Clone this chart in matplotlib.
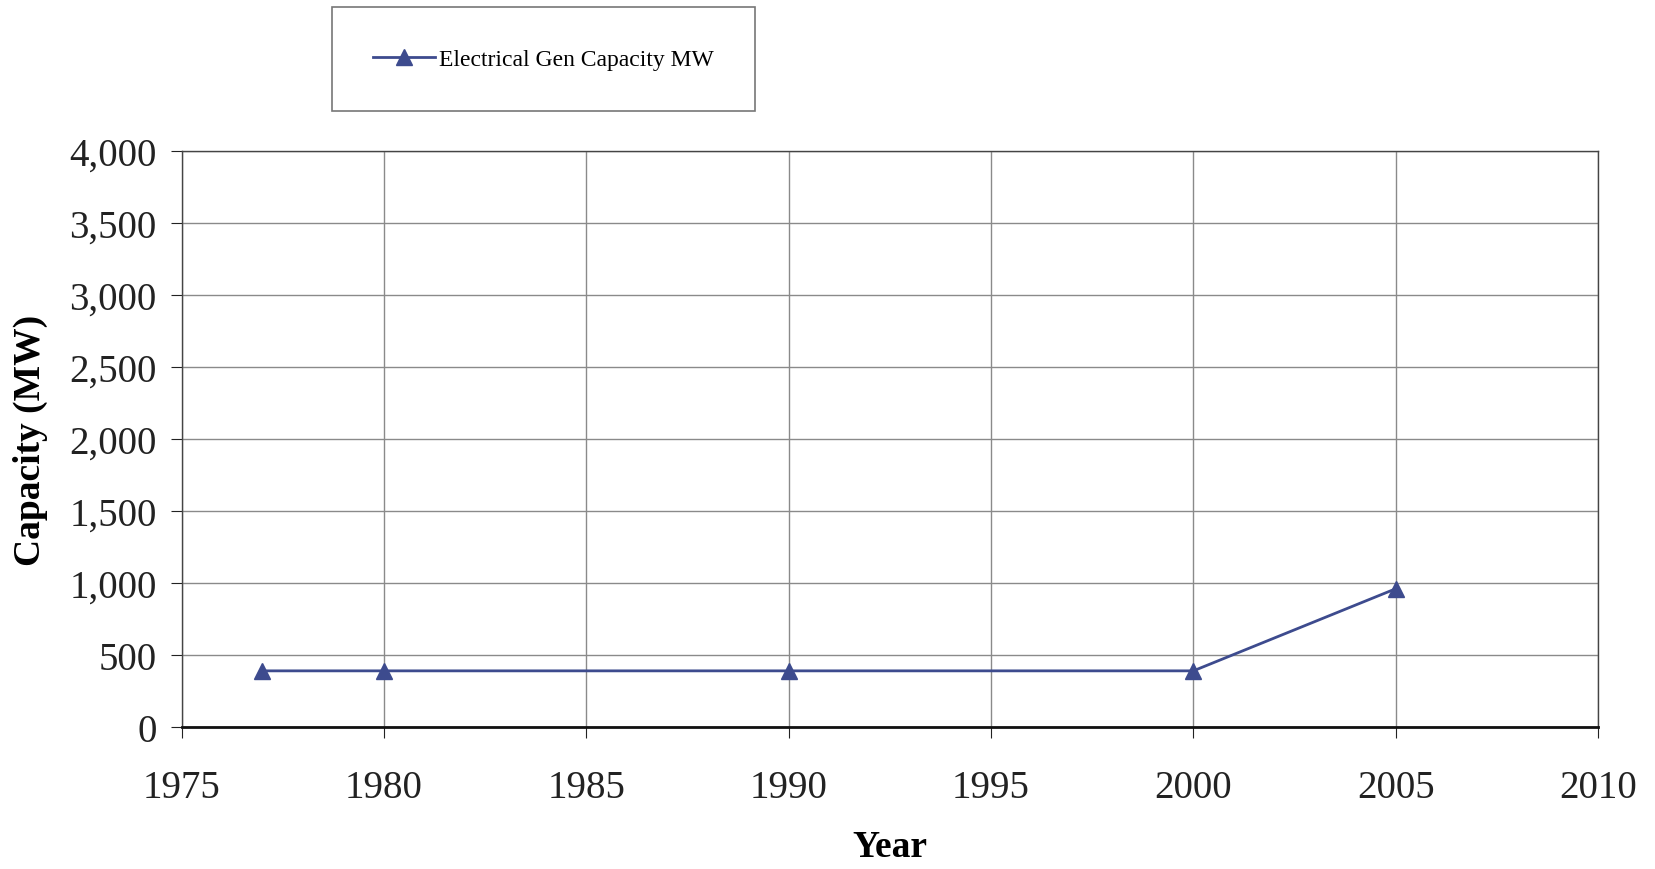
import matplotlib
matplotlib.use("Agg")
import matplotlib.pyplot as plt
from matplotlib.ticker import FuncFormatter

plt.rcParams['font.family'] = ['Liberation Serif', 'DejaVu Serif']

# generating capacity by year
years = [1977, 1980, 1990, 2000, 2005]
capacity_mw = [390, 390, 390, 390, 960]
series_name = "Electrical Gen Capacity MW"

x_ticks = list(range(1975, 2011, 5))
y_ticks = list(range(0, 4001, 500))

fig = plt.figure(figsize=(16.55, 8.7), dpi=100)
ax = fig.add_axes([0.1097, 0.1632, 0.8559, 0.6621])

line, = ax.plot(years, capacity_mw, color='#3d4b8e', lw=2, marker='^',
                markersize=11, markerfacecolor='#3d4b8e', markeredgecolor='#3d4b8e')

ax.set_xlim(1975, 2010)
ax.set_ylim(0, 4000)
ax.set_xticks(x_ticks)
ax.set_yticks(y_ticks)
ax.yaxis.set_major_formatter(FuncFormatter(lambda v, p: f"{int(v):,}"))
ax.grid(True, color='#8a8a8a', lw=1)
ax.set_axisbelow(True)
for s in ax.spines.values():
    s.set_color('#444444')
    s.set_linewidth(1)
ax.spines['bottom'].set_color('#111111')
ax.spines['bottom'].set_linewidth(2)
ax.tick_params(axis='both', labelsize=28, colors='#222222', length=8,
               direction='out')
ax.tick_params(axis='x', pad=22)
ax.tick_params(axis='y', pad=10)

ax.set_xlabel("Year", fontsize=27, fontweight='bold', labelpad=17)
ax.set_ylabel("Capacity (MW)", fontsize=27, fontweight='bold', labelpad=15)

leg = fig.legend([line], [series_name], loc='center',
                 bbox_to_anchor=(0.3285, 0.931), fontsize=17,
                 frameon=True, fancybox=False, edgecolor='#555555',
                 handlelength=2.6, borderpad=1.75, handletextpad=0.2,
                 borderaxespad=0)
leg.get_frame().set_linewidth(1.2)

fig.savefig("out.png", dpi=100)
